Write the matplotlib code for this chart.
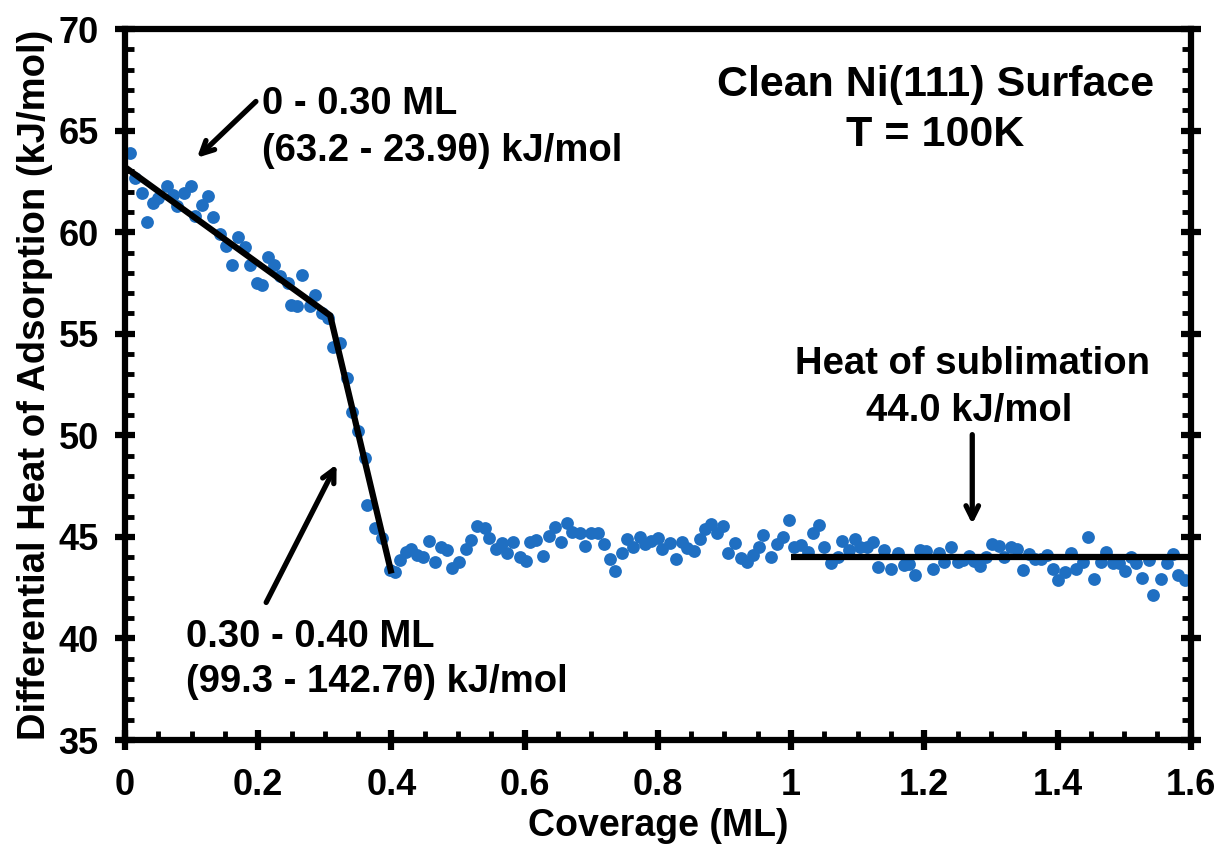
import matplotlib
matplotlib.use("Agg")
import matplotlib.pyplot as plt
from matplotlib.ticker import MultipleLocator

plt.rcParams['font.family'] = ['Liberation Sans', 'DejaVu Sans']
plt.rcParams['font.weight'] = 'bold'

coverage = [0.0075, 0.015, 0.025, 0.0335, 0.0425, 0.05, 0.0625, 0.0725, 0.0775, 0.089,
            0.099, 0.105, 0.115, 0.125, 0.1325, 0.1425, 0.1515, 0.161, 0.169, 0.18,
            0.1875, 0.1975, 0.205, 0.215, 0.224, 0.2325, 0.244, 0.249, 0.2575, 0.266,
            0.2775, 0.285, 0.295, 0.305, 0.3125, 0.3225, 0.3335, 0.34, 0.35, 0.361,
            0.3635, 0.375, 0.3865, 0.3975, 0.405, 0.4125, 0.4215, 0.43, 0.439, 0.4475,
            0.4565, 0.466, 0.475, 0.4835, 0.491, 0.5015, 0.5115, 0.52, 0.5285, 0.54,
            0.5465, 0.5565, 0.566, 0.5735, 0.5825, 0.5925, 0.6015, 0.6075, 0.6175, 0.6275,
            0.6365, 0.646, 0.655, 0.664, 0.6715, 0.6825, 0.69, 0.70, 0.71, 0.719,
            0.7275, 0.736, 0.746, 0.7535, 0.7625, 0.7725, 0.78, 0.79, 0.80, 0.8065,
            0.8175, 0.8265, 0.8365, 0.8435, 0.8535, 0.8625, 0.87, 0.88, 0.8885, 0.8975,
            0.905, 0.916, 0.925, 0.9335, 0.9425, 0.9515, 0.9585, 0.97, 0.979, 0.9875,
            0.9965, 1.005, 1.015, 1.025, 1.0325, 1.0425, 1.05, 1.06, 1.07, 1.0765,
            1.0875, 1.0965, 1.104, 1.1135, 1.1235, 1.13, 1.14, 1.15, 1.16, 1.169,
            1.1765, 1.186, 1.1935, 1.2025, 1.2125, 1.2215, 1.23, 1.24, 1.25, 1.2575,
            1.2675, 1.275, 1.2835, 1.2925, 1.3015, 1.3115, 1.32, 1.33, 1.3385, 1.3475,
            1.3575, 1.3665, 1.375, 1.3835, 1.3925, 1.401, 1.411, 1.42, 1.4285, 1.4385,
            1.4465, 1.455, 1.465, 1.4735, 1.4835, 1.4925, 1.5015, 1.51, 1.5185, 1.5275,
            1.5375, 1.5435, 1.555, 1.565, 1.5735, 1.581, 1.5915]
heat = [63.9, 62.67, 61.93, 60.5, 61.44, 61.68, 62.26, 61.85, 61.27, 61.93,
        62.26, 60.78, 61.35, 61.8, 60.73, 59.9, 59.33, 58.4, 59.78, 59.25,
        58.4, 57.5, 57.38, 58.78, 58.4, 57.82, 57.5, 56.4, 56.35, 57.9,
        56.35, 56.92, 56.0, 55.77, 54.37, 54.54, 52.82, 51.17, 50.19, 48.87,
        46.58, 45.43, 44.93, 43.37, 43.29, 43.87, 44.28, 44.39, 44.11, 44.0,
        44.82, 43.78, 44.52, 44.33, 43.49, 43.78, 44.39, 44.85, 45.54, 45.43,
        44.93, 44.39, 44.69, 44.2, 44.73, 44.0, 43.82, 44.77, 44.85, 44.06,
        45.05, 45.48, 44.77, 45.7, 45.26, 45.18, 44.56, 45.18, 45.21, 44.66,
        43.92, 43.34, 44.23, 44.89, 44.52, 45.01, 44.64, 44.82, 44.93, 44.39,
        44.69, 43.89, 44.77, 44.44, 44.31, 44.89, 45.38, 45.64, 45.18, 45.56,
        44.23, 44.69, 43.94, 43.78, 44.11, 44.52, 45.1, 44.0, 44.64, 45.01,
        45.84, 44.52, 44.61, 44.28, 45.18, 45.59, 44.52, 43.7, 44.03, 44.82,
        44.36, 44.9, 44.52, 44.52, 44.73, 43.54, 44.36, 43.42, 44.23, 43.62,
        43.66, 43.13, 44.36, 44.31, 43.42, 44.23, 43.78, 44.52, 43.78, 43.87,
        44.06, 43.83, 43.57, 44.03, 44.66, 44.56, 44.03, 44.52, 44.39, 43.37,
        44.16, 43.89, 43.89, 44.11, 43.44, 42.9, 43.29, 44.23, 43.42, 43.78,
        44.98, 42.95, 43.78, 44.28, 43.7, 43.7, 43.34, 44.0, 43.7, 43.0,
        43.87, 42.14, 42.95, 43.7, 44.16, 43.13, 42.88]

fit_x = [0.0, 0.308, 0.40]
fit_y = [63.2, 55.9, 43.2]
sub_x = [1.0, 1.6]
sub_y = [44.0, 44.0]

fig = plt.figure(figsize=(12.2, 8.55), dpi=100)
ax = fig.add_axes([0.1025, 0.1345, 0.8735, 0.8315])

ax.scatter(coverage, heat, s=85, color='#1f6fc2', zorder=2, linewidths=0)
ax.plot(fit_x, fit_y, color='black', lw=4.5, zorder=3, solid_capstyle='butt')
ax.plot(sub_x, sub_y, color='black', lw=4.5, zorder=3, solid_capstyle='butt')

ax.set_xlim(0, 1.6)
ax.set_ylim(35, 70)
ax.xaxis.set_minor_locator(MultipleLocator(0.05))
ax.yaxis.set_major_locator(MultipleLocator(5))
ax.yaxis.set_minor_locator(MultipleLocator(1))
ax.set_xticks([0, 0.2, 0.4, 0.6, 0.8, 1.0, 1.2, 1.4, 1.6])
ax.set_xticklabels(['0', '0.2', '0.4', '0.6', '0.8', '1', '1.2', '1.4', '1.6'])

for s in ax.spines.values():
    s.set_linewidth(4.5)

ax.tick_params(which='major', direction='inout', length=14, width=4.5,
               labelsize=26, right=True, top=False)
ax.tick_params(which='minor', direction='in', length=6.5, width=3.5,
               right=True, top=False)
ax.tick_params(axis='y', which='major', pad=12)
ax.tick_params(axis='x', which='major', pad=13)
for lbl in ax.get_xticklabels() + ax.get_yticklabels():
    lbl.set_fontweight('bold')

ax.set_xlabel('Coverage (ML)', fontsize=27, fontweight='bold', labelpad=4)
ax.set_ylabel('Differential Heat of Adsorption (kJ/mol)', fontsize=27.5,
              fontweight='bold', labelpad=4)

tfs = 27.5
ax.text(0.2055, 66.3, '0 - 0.30 ML', fontsize=tfs, fontweight='bold', ha='left', va='center')
ax.text(0.2055, 63.98, '(63.2 - 23.9θ) kJ/mol', fontsize=tfs, fontweight='bold', ha='left', va='center')
ax.text(0.0915, 40.05, '0.30 - 0.40 ML', fontsize=tfs, fontweight='bold', ha='left', va='center')
ax.text(0.0915, 37.85, '(99.3 - 142.7θ) kJ/mol', fontsize=tfs, fontweight='bold', ha='left', va='center')
ax.text(1.272, 53.5, 'Heat of sublimation', fontsize=tfs, fontweight='bold', ha='center', va='center')
ax.text(1.267, 51.2, '44.0 kJ/mol', fontsize=tfs, fontweight='bold', ha='center', va='center')
ax.text(1.2165, 67.27, 'Clean Ni(111) Surface', fontsize=31, fontweight='bold', ha='center', va='center')
ax.text(1.2165, 64.8, 'T = 100K', fontsize=31, fontweight='bold', ha='center', va='center')

arrow = dict(arrowstyle='->,head_length=0.9,head_width=0.45', lw=3.8, color='black')
ax.annotate('', xy=(0.105, 63.57), xytext=(0.1995, 66.53), arrowprops=arrow)
ax.annotate('', xy=(0.3195, 48.69), xytext=(0.21, 41.65), arrowprops=arrow)
ax.annotate('', xy=(1.272, 45.49), xytext=(1.272, 50.17), arrowprops=arrow)

fig.savefig('out.png', dpi=100)
